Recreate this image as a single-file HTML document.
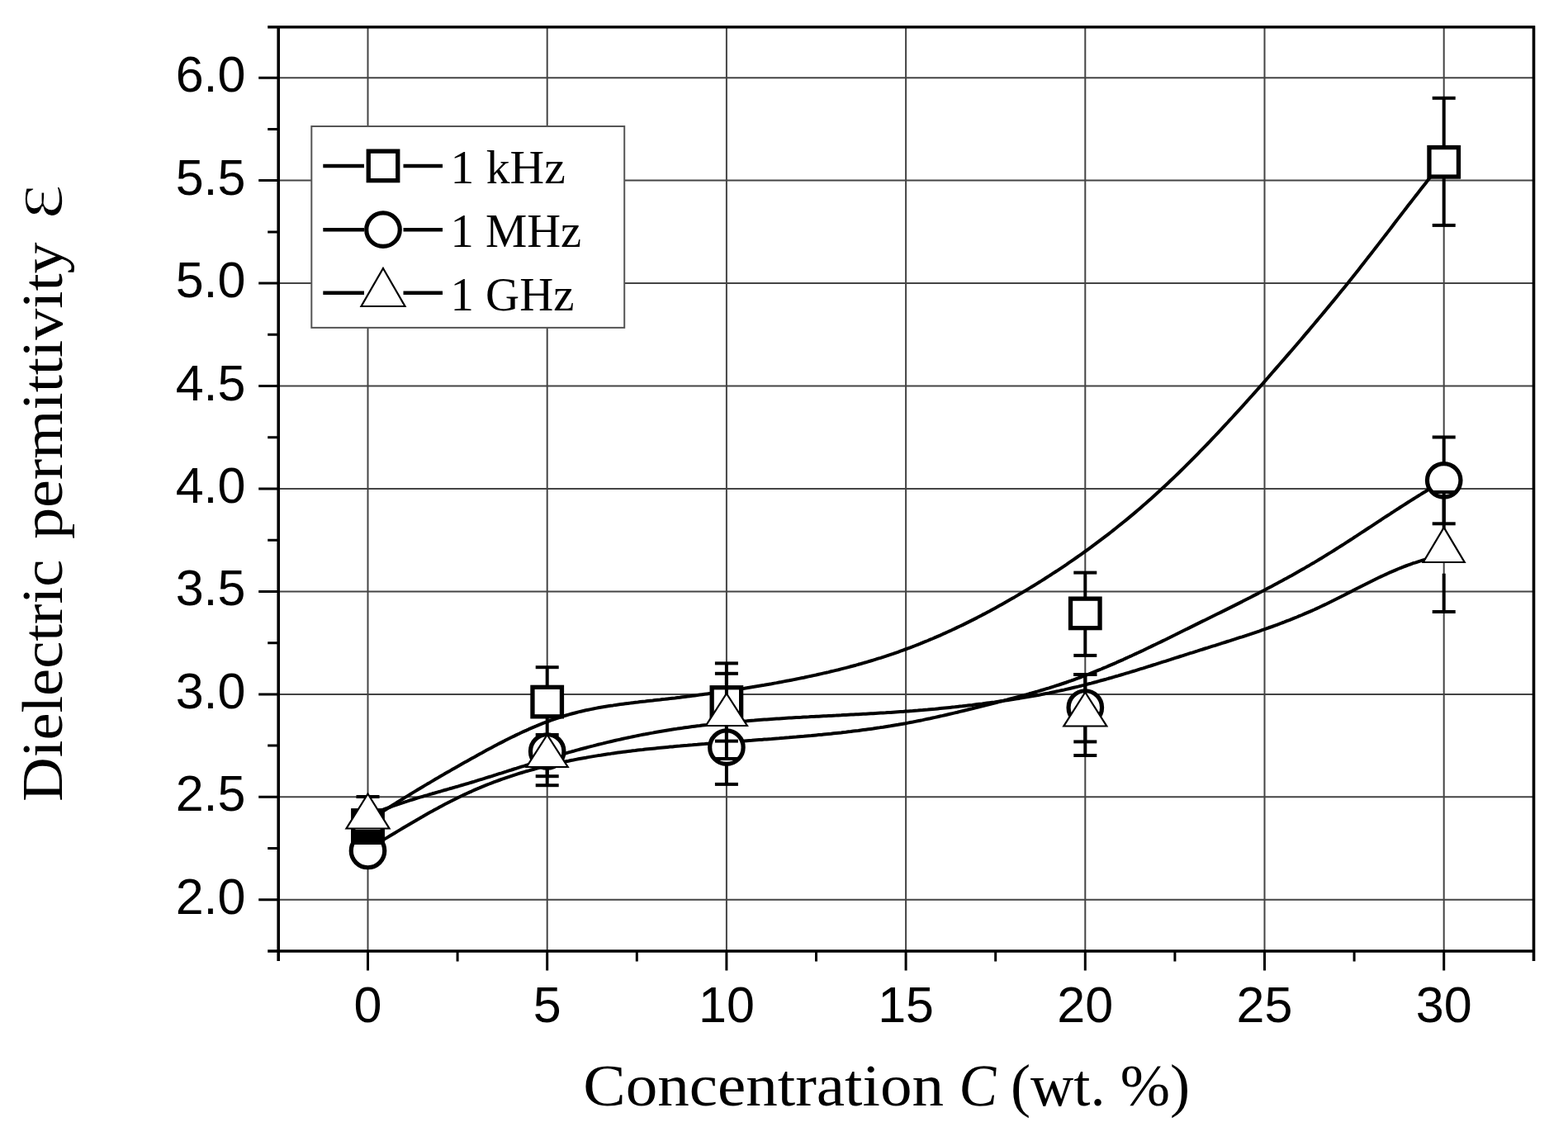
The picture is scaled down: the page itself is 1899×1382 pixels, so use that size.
<!DOCTYPE html><html><head><meta charset="utf-8"><style>html,body{margin:0;padding:0;background:#fff;}svg{display:block;}</style></head><body>
<svg width="1899" height="1382" viewBox="0 0 1899 1382">
<rect x="0" y="0" width="1899" height="1382" fill="#fff"/>
<path d="M445.5 32.7V1152.0M662.7 32.7V1152.0M879.9 32.7V1152.0M1097.1 32.7V1152.0M1314.3 32.7V1152.0M1531.5 32.7V1152.0M1748.7 32.7V1152.0M337.2 1089.8H1857.5M337.2 965.3H1857.5M337.2 840.9H1857.5M337.2 716.4H1857.5M337.2 592.0H1857.5M337.2 467.5H1857.5M337.2 343.1H1857.5M337.2 218.6H1857.5M337.2 94.2H1857.5" stroke="#444" stroke-width="2" fill="none"/>
<path d="M445.5 994.7 L448.5 992.7 L451.5 990.7 L454.5 988.8 L457.5 986.8 L460.5 984.9 L463.5 982.9 L466.5 981.0 L469.5 979.1 L472.5 977.2 L475.5 975.3 L478.5 973.4 L481.5 971.5 L484.5 969.6 L487.5 967.8 L490.5 965.9 L493.5 964.1 L496.5 962.3 L499.5 960.4 L502.5 958.6 L505.5 956.8 L508.5 955.0 L511.5 953.2 L514.5 951.4 L517.5 949.6 L520.5 947.9 L523.5 946.1 L526.5 944.3 L529.5 942.6 L532.5 940.8 L535.5 939.1 L538.5 937.3 L541.5 935.6 L544.5 933.9 L547.5 932.1 L550.5 930.4 L553.5 928.7 L556.5 927.0 L559.5 925.3 L562.5 923.6 L565.5 921.9 L568.5 920.2 L571.5 918.5 L574.5 916.9 L577.5 915.2 L580.5 913.5 L583.5 911.9 L586.5 910.2 L589.5 908.6 L592.5 907.0 L595.5 905.4 L598.5 903.8 L601.5 902.2 L604.5 900.6 L607.5 899.1 L610.5 897.6 L613.5 896.0 L616.5 894.5 L619.5 893.0 L622.5 891.6 L625.5 890.1 L628.5 888.7 L631.5 887.3 L634.5 885.9 L637.5 884.6 L640.5 883.2 L643.5 881.9 L646.5 880.6 L649.5 879.4 L652.5 878.1 L655.5 876.9 L658.5 875.7 L661.5 874.6 L664.5 873.5 L667.5 872.4 L670.5 871.3 L673.5 870.3 L676.5 869.3 L679.5 868.3 L682.5 867.4 L685.5 866.5 L688.5 865.6 L691.5 864.8 L694.5 864.0 L697.5 863.2 L700.5 862.4 L703.5 861.7 L706.5 861.0 L709.5 860.3 L712.5 859.7 L715.5 859.1 L718.5 858.5 L721.5 857.9 L724.5 857.3 L727.5 856.8 L730.5 856.3 L733.5 855.8 L736.5 855.3 L739.5 854.8 L742.5 854.4 L745.5 853.9 L748.5 853.5 L751.5 853.1 L754.5 852.7 L757.5 852.3 L760.5 851.9 L763.5 851.6 L766.5 851.2 L769.5 850.8 L772.5 850.5 L775.5 850.1 L778.5 849.8 L781.5 849.5 L784.5 849.1 L787.5 848.8 L790.5 848.5 L793.5 848.1 L796.5 847.8 L799.5 847.5 L802.5 847.1 L805.5 846.8 L808.5 846.4 L811.5 846.1 L814.5 845.7 L817.5 845.4 L820.5 845.0 L823.5 844.7 L826.5 844.3 L829.5 843.9 L832.5 843.5 L835.5 843.2 L838.5 842.8 L841.5 842.4 L844.5 842.0 L847.5 841.6 L850.5 841.2 L853.5 840.8 L856.5 840.4 L859.5 840.0 L862.5 839.6 L865.5 839.2 L868.5 838.7 L871.5 838.3 L874.5 837.9 L877.5 837.4 L880.5 837.0 L883.5 836.5 L886.5 836.1 L889.5 835.6 L892.5 835.2 L895.5 834.7 L898.5 834.2 L901.5 833.8 L904.5 833.3 L907.5 832.8 L910.5 832.3 L913.5 831.8 L916.5 831.3 L919.5 830.8 L922.5 830.3 L925.5 829.8 L928.5 829.2 L931.5 828.7 L934.5 828.2 L937.5 827.6 L940.5 827.1 L943.5 826.5 L946.5 826.0 L949.5 825.4 L952.5 824.8 L955.5 824.3 L958.5 823.7 L961.5 823.1 L964.5 822.5 L967.5 821.9 L970.5 821.3 L973.5 820.7 L976.5 820.0 L979.5 819.4 L982.5 818.8 L985.5 818.1 L988.5 817.5 L991.5 816.8 L994.5 816.1 L997.5 815.4 L1000.5 814.8 L1003.5 814.1 L1006.5 813.3 L1009.5 812.6 L1012.5 811.9 L1015.5 811.2 L1018.5 810.4 L1021.5 809.6 L1024.5 808.9 L1027.5 808.1 L1030.5 807.3 L1033.5 806.5 L1036.5 805.7 L1039.5 804.8 L1042.5 804.0 L1045.5 803.1 L1048.5 802.3 L1051.5 801.4 L1054.5 800.5 L1057.5 799.6 L1060.5 798.7 L1063.5 797.7 L1066.5 796.8 L1069.5 795.8 L1072.5 794.9 L1075.5 793.9 L1078.5 792.9 L1081.5 791.9 L1084.5 790.8 L1087.5 789.8 L1090.5 788.7 L1093.5 787.6 L1096.5 786.5 L1099.5 785.4 L1102.5 784.3 L1105.5 783.2 L1108.5 782.0 L1111.5 780.8 L1114.5 779.7 L1117.5 778.4 L1120.5 777.2 L1123.5 776.0 L1126.5 774.7 L1129.5 773.5 L1132.5 772.2 L1135.5 770.9 L1138.5 769.6 L1141.5 768.2 L1144.5 766.9 L1147.5 765.5 L1150.5 764.2 L1153.5 762.8 L1156.5 761.4 L1159.5 759.9 L1162.5 758.5 L1165.5 757.1 L1168.5 755.6 L1171.5 754.1 L1174.5 752.6 L1177.5 751.1 L1180.5 749.6 L1183.5 748.1 L1186.5 746.5 L1189.5 744.9 L1192.5 743.4 L1195.5 741.8 L1198.5 740.2 L1201.5 738.5 L1204.5 736.9 L1207.5 735.3 L1210.5 733.6 L1213.5 731.9 L1216.5 730.2 L1219.5 728.5 L1222.5 726.8 L1225.5 725.1 L1228.5 723.4 L1231.5 721.6 L1234.5 719.8 L1237.5 718.1 L1240.5 716.3 L1243.5 714.5 L1246.5 712.6 L1249.5 710.8 L1252.5 709.0 L1255.5 707.1 L1258.5 705.2 L1261.5 703.4 L1264.5 701.5 L1267.5 699.5 L1270.5 697.6 L1273.5 695.7 L1276.5 693.7 L1279.5 691.8 L1282.5 689.8 L1285.5 687.8 L1288.5 685.8 L1291.5 683.8 L1294.5 681.7 L1297.5 679.7 L1300.5 677.6 L1303.5 675.5 L1306.5 673.4 L1309.5 671.3 L1312.5 669.1 L1315.5 667.0 L1318.5 664.8 L1321.5 662.6 L1324.5 660.4 L1327.5 658.2 L1330.5 655.9 L1333.5 653.7 L1336.5 651.4 L1339.5 649.1 L1342.5 646.8 L1345.5 644.5 L1348.5 642.1 L1351.5 639.7 L1354.5 637.3 L1357.5 634.9 L1360.5 632.5 L1363.5 630.1 L1366.5 627.6 L1369.5 625.1 L1372.5 622.6 L1375.5 620.1 L1378.5 617.5 L1381.5 614.9 L1384.5 612.3 L1387.5 609.7 L1390.5 607.1 L1393.5 604.4 L1396.5 601.7 L1399.5 599.0 L1402.5 596.3 L1405.5 593.5 L1408.5 590.8 L1411.5 588.0 L1414.5 585.2 L1417.5 582.3 L1420.5 579.5 L1423.5 576.6 L1426.5 573.7 L1429.5 570.8 L1432.5 567.8 L1435.5 564.9 L1438.5 561.9 L1441.5 558.9 L1444.5 555.9 L1447.5 552.9 L1450.5 549.8 L1453.5 546.7 L1456.5 543.7 L1459.5 540.6 L1462.5 537.5 L1465.5 534.3 L1468.5 531.2 L1471.5 528.0 L1474.5 524.8 L1477.5 521.6 L1480.5 518.4 L1483.5 515.2 L1486.5 512.0 L1489.5 508.7 L1492.5 505.5 L1495.5 502.2 L1498.5 498.9 L1501.5 495.6 L1504.5 492.3 L1507.5 489.0 L1510.5 485.7 L1513.5 482.3 L1516.5 479.0 L1519.5 475.6 L1522.5 472.2 L1525.5 468.9 L1528.5 465.5 L1531.5 462.1 L1534.5 458.7 L1537.5 455.2 L1540.5 451.8 L1543.5 448.4 L1546.5 444.9 L1549.5 441.5 L1552.5 438.0 L1555.5 434.6 L1558.5 431.1 L1561.5 427.6 L1564.5 424.2 L1567.5 420.7 L1570.5 417.2 L1573.5 413.7 L1576.5 410.2 L1579.5 406.6 L1582.5 403.1 L1585.5 399.6 L1588.5 396.0 L1591.5 392.5 L1594.5 388.9 L1597.5 385.3 L1600.5 381.7 L1603.5 378.1 L1606.5 374.5 L1609.5 370.9 L1612.5 367.2 L1615.5 363.6 L1618.5 359.9 L1621.5 356.3 L1624.5 352.6 L1627.5 348.9 L1630.5 345.2 L1633.5 341.4 L1636.5 337.7 L1639.5 333.9 L1642.5 330.2 L1645.5 326.4 L1648.5 322.6 L1651.5 318.8 L1654.5 314.9 L1657.5 311.1 L1660.5 307.3 L1663.5 303.4 L1666.5 299.5 L1669.5 295.6 L1672.5 291.8 L1675.5 287.9 L1678.5 284.0 L1681.5 280.1 L1684.5 276.2 L1687.5 272.2 L1690.5 268.3 L1693.5 264.4 L1696.5 260.5 L1699.5 256.6 L1702.5 252.7 L1705.5 248.8 L1708.5 245.0 L1711.5 241.1 L1714.5 237.2 L1717.5 233.4 L1720.5 229.5 L1723.5 225.7 L1726.5 221.9 L1729.5 218.1 L1732.5 214.3 L1735.5 210.6 L1738.5 206.8 L1741.5 203.1 L1744.5 199.4 L1747.5 195.7 L1748.8 194.2" stroke="#000" stroke-width="4" fill="none" stroke-linejoin="round"/>
<path d="M445.5 1028.5 L448.5 1026.7 L451.5 1024.9 L454.5 1023.2 L457.5 1021.4 L460.5 1019.5 L463.5 1017.7 L466.5 1015.9 L469.5 1014.1 L472.5 1012.3 L475.5 1010.5 L478.5 1008.7 L481.5 1006.9 L484.5 1005.1 L487.5 1003.3 L490.5 1001.5 L493.5 999.8 L496.5 998.0 L499.5 996.2 L502.5 994.5 L505.5 992.7 L508.5 991.0 L511.5 989.3 L514.5 987.5 L517.5 985.8 L520.5 984.1 L523.5 982.5 L526.5 980.8 L529.5 979.2 L532.5 977.5 L535.5 975.9 L538.5 974.3 L541.5 972.8 L544.5 971.2 L547.5 969.7 L550.5 968.2 L553.5 966.7 L556.5 965.2 L559.5 963.8 L562.5 962.4 L565.5 961.0 L568.5 959.6 L571.5 958.3 L574.5 956.9 L577.5 955.6 L580.5 954.4 L583.5 953.1 L586.5 951.9 L589.5 950.7 L592.5 949.5 L595.5 948.3 L598.5 947.2 L601.5 946.1 L604.5 945.0 L607.5 943.9 L610.5 942.9 L613.5 941.8 L616.5 940.8 L619.5 939.8 L622.5 938.8 L625.5 937.9 L628.5 936.9 L631.5 936.0 L634.5 935.1 L637.5 934.2 L640.5 933.4 L643.5 932.5 L646.5 931.7 L649.5 930.9 L652.5 930.1 L655.5 929.3 L658.5 928.5 L661.5 927.8 L664.5 927.0 L667.5 926.3 L670.5 925.6 L673.5 924.9 L676.5 924.2 L679.5 923.6 L682.5 922.9 L685.5 922.3 L688.5 921.7 L691.5 921.0 L694.5 920.5 L697.5 919.9 L700.5 919.3 L703.5 918.7 L706.5 918.2 L709.5 917.7 L712.5 917.1 L715.5 916.6 L718.5 916.1 L721.5 915.6 L724.5 915.1 L727.5 914.7 L730.5 914.2 L733.5 913.7 L736.5 913.3 L739.5 912.9 L742.5 912.4 L745.5 912.0 L748.5 911.6 L751.5 911.2 L754.5 910.8 L757.5 910.4 L760.5 910.1 L763.5 909.7 L766.5 909.3 L769.5 909.0 L772.5 908.6 L775.5 908.3 L778.5 908.0 L781.5 907.6 L784.5 907.3 L787.5 907.0 L790.5 906.7 L793.5 906.4 L796.5 906.1 L799.5 905.8 L802.5 905.5 L805.5 905.2 L808.5 904.9 L811.5 904.6 L814.5 904.4 L817.5 904.1 L820.5 903.8 L823.5 903.6 L826.5 903.3 L829.5 903.0 L832.5 902.8 L835.5 902.5 L838.5 902.3 L841.5 902.0 L844.5 901.8 L847.5 901.5 L850.5 901.3 L853.5 901.1 L856.5 900.8 L859.5 900.6 L862.5 900.3 L865.5 900.1 L868.5 899.9 L871.5 899.7 L874.5 899.4 L877.5 899.2 L880.5 899.0 L883.5 898.8 L886.5 898.5 L889.5 898.3 L892.5 898.1 L895.5 897.9 L898.5 897.6 L901.5 897.4 L904.5 897.2 L907.5 897.0 L910.5 896.8 L913.5 896.5 L916.5 896.3 L919.5 896.1 L922.5 895.9 L925.5 895.6 L928.5 895.4 L931.5 895.2 L934.5 895.0 L937.5 894.7 L940.5 894.5 L943.5 894.3 L946.5 894.0 L949.5 893.8 L952.5 893.5 L955.5 893.3 L958.5 893.0 L961.5 892.8 L964.5 892.6 L967.5 892.3 L970.5 892.0 L973.5 891.8 L976.5 891.5 L979.5 891.2 L982.5 891.0 L985.5 890.7 L988.5 890.4 L991.5 890.1 L994.5 889.9 L997.5 889.6 L1000.5 889.3 L1003.5 889.0 L1006.5 888.7 L1009.5 888.3 L1012.5 888.0 L1015.5 887.7 L1018.5 887.4 L1021.5 887.0 L1024.5 886.7 L1027.5 886.3 L1030.5 886.0 L1033.5 885.6 L1036.5 885.2 L1039.5 884.9 L1042.5 884.5 L1045.5 884.1 L1048.5 883.7 L1051.5 883.3 L1054.5 882.9 L1057.5 882.5 L1060.5 882.0 L1063.5 881.6 L1066.5 881.1 L1069.5 880.7 L1072.5 880.2 L1075.5 879.7 L1078.5 879.3 L1081.5 878.8 L1084.5 878.3 L1087.5 877.8 L1090.5 877.2 L1093.5 876.7 L1096.5 876.2 L1099.5 875.6 L1102.5 875.0 L1105.5 874.5 L1108.5 873.9 L1111.5 873.3 L1114.5 872.7 L1117.5 872.1 L1120.5 871.4 L1123.5 870.8 L1126.5 870.2 L1129.5 869.5 L1132.5 868.9 L1135.5 868.2 L1138.5 867.5 L1141.5 866.9 L1144.5 866.2 L1147.5 865.5 L1150.5 864.8 L1153.5 864.1 L1156.5 863.4 L1159.5 862.7 L1162.5 861.9 L1165.5 861.2 L1168.5 860.5 L1171.5 859.8 L1174.5 859.0 L1177.5 858.3 L1180.5 857.5 L1183.5 856.8 L1186.5 856.0 L1189.5 855.3 L1192.5 854.5 L1195.5 853.8 L1198.5 853.0 L1201.5 852.2 L1204.5 851.5 L1207.5 850.7 L1210.5 849.9 L1213.5 849.2 L1216.5 848.4 L1219.5 847.6 L1222.5 846.8 L1225.5 846.0 L1228.5 845.2 L1231.5 844.4 L1234.5 843.6 L1237.5 842.8 L1240.5 842.0 L1243.5 841.2 L1246.5 840.3 L1249.5 839.5 L1252.5 838.6 L1255.5 837.8 L1258.5 836.9 L1261.5 836.0 L1264.5 835.1 L1267.5 834.2 L1270.5 833.3 L1273.5 832.3 L1276.5 831.4 L1279.5 830.4 L1282.5 829.5 L1285.5 828.5 L1288.5 827.5 L1291.5 826.5 L1294.5 825.4 L1297.5 824.4 L1300.5 823.3 L1303.5 822.2 L1306.5 821.1 L1309.5 820.0 L1312.5 818.8 L1315.5 817.7 L1318.5 816.5 L1321.5 815.3 L1324.5 814.1 L1327.5 812.9 L1330.5 811.7 L1333.5 810.5 L1336.5 809.2 L1339.5 808.0 L1342.5 806.7 L1345.5 805.4 L1348.5 804.1 L1351.5 802.8 L1354.5 801.4 L1357.5 800.1 L1360.5 798.8 L1363.5 797.4 L1366.5 796.0 L1369.5 794.7 L1372.5 793.3 L1375.5 791.9 L1378.5 790.5 L1381.5 789.1 L1384.5 787.7 L1387.5 786.2 L1390.5 784.8 L1393.5 783.4 L1396.5 781.9 L1399.5 780.5 L1402.5 779.0 L1405.5 777.6 L1408.5 776.1 L1411.5 774.7 L1414.5 773.2 L1417.5 771.7 L1420.5 770.2 L1423.5 768.8 L1426.5 767.3 L1429.5 765.8 L1432.5 764.3 L1435.5 762.8 L1438.5 761.4 L1441.5 759.9 L1444.5 758.4 L1447.5 756.9 L1450.5 755.4 L1453.5 753.9 L1456.5 752.4 L1459.5 751.0 L1462.5 749.5 L1465.5 748.0 L1468.5 746.5 L1471.5 745.0 L1474.5 743.5 L1477.5 742.1 L1480.5 740.6 L1483.5 739.1 L1486.5 737.6 L1489.5 736.1 L1492.5 734.6 L1495.5 733.1 L1498.5 731.6 L1501.5 730.1 L1504.5 728.6 L1507.5 727.0 L1510.5 725.5 L1513.5 724.0 L1516.5 722.4 L1519.5 720.9 L1522.5 719.4 L1525.5 717.8 L1528.5 716.2 L1531.5 714.7 L1534.5 713.1 L1537.5 711.5 L1540.5 709.9 L1543.5 708.3 L1546.5 706.7 L1549.5 705.1 L1552.5 703.5 L1555.5 701.8 L1558.5 700.2 L1561.5 698.5 L1564.5 696.9 L1567.5 695.2 L1570.5 693.5 L1573.5 691.8 L1576.5 690.1 L1579.5 688.4 L1582.5 686.6 L1585.5 684.9 L1588.5 683.1 L1591.5 681.4 L1594.5 679.6 L1597.5 677.8 L1600.5 676.0 L1603.5 674.1 L1606.5 672.3 L1609.5 670.4 L1612.5 668.6 L1615.5 666.7 L1618.5 664.8 L1621.5 662.9 L1624.5 661.0 L1627.5 659.1 L1630.5 657.1 L1633.5 655.2 L1636.5 653.3 L1639.5 651.3 L1642.5 649.4 L1645.5 647.4 L1648.5 645.4 L1651.5 643.5 L1654.5 641.5 L1657.5 639.5 L1660.5 637.6 L1663.5 635.6 L1666.5 633.6 L1669.5 631.6 L1672.5 629.7 L1675.5 627.7 L1678.5 625.7 L1681.5 623.8 L1684.5 621.8 L1687.5 619.9 L1690.5 617.9 L1693.5 616.0 L1696.5 614.0 L1699.5 612.1 L1702.5 610.2 L1705.5 608.3 L1708.5 606.4 L1711.5 604.5 L1714.5 602.6 L1717.5 600.7 L1720.5 598.9 L1723.5 597.0 L1726.5 595.2 L1729.5 593.4 L1732.5 591.6 L1735.5 589.8 L1738.5 588.0 L1741.5 586.2 L1744.5 584.5 L1747.5 582.8 L1748.8 582.0" stroke="#000" stroke-width="4" fill="none" stroke-linejoin="round"/>
<path d="M445.5 988.3 L448.5 987.0 L451.5 985.7 L454.5 984.5 L457.5 983.3 L460.5 982.1 L463.5 980.9 L466.5 979.7 L469.5 978.6 L472.5 977.5 L475.5 976.4 L478.5 975.4 L481.5 974.3 L484.5 973.3 L487.5 972.3 L490.5 971.3 L493.5 970.4 L496.5 969.4 L499.5 968.5 L502.5 967.5 L505.5 966.6 L508.5 965.7 L511.5 964.8 L514.5 963.9 L517.5 963.1 L520.5 962.2 L523.5 961.3 L526.5 960.5 L529.5 959.6 L532.5 958.8 L535.5 957.9 L538.5 957.0 L541.5 956.2 L544.5 955.3 L547.5 954.5 L550.5 953.6 L553.5 952.8 L556.5 951.9 L559.5 951.0 L562.5 950.1 L565.5 949.3 L568.5 948.4 L571.5 947.5 L574.5 946.6 L577.5 945.6 L580.5 944.7 L583.5 943.8 L586.5 942.9 L589.5 941.9 L592.5 941.0 L595.5 940.1 L598.5 939.1 L601.5 938.2 L604.5 937.2 L607.5 936.3 L610.5 935.3 L613.5 934.4 L616.5 933.4 L619.5 932.5 L622.5 931.5 L625.5 930.6 L628.5 929.6 L631.5 928.7 L634.5 927.8 L637.5 926.8 L640.5 925.9 L643.5 924.9 L646.5 924.0 L649.5 923.1 L652.5 922.1 L655.5 921.2 L658.5 920.3 L661.5 919.4 L664.5 918.5 L667.5 917.6 L670.5 916.7 L673.5 915.8 L676.5 914.9 L679.5 914.0 L682.5 913.1 L685.5 912.3 L688.5 911.4 L691.5 910.6 L694.5 909.8 L697.5 908.9 L700.5 908.1 L703.5 907.3 L706.5 906.5 L709.5 905.7 L712.5 904.9 L715.5 904.1 L718.5 903.4 L721.5 902.6 L724.5 901.8 L727.5 901.1 L730.5 900.4 L733.5 899.6 L736.5 898.9 L739.5 898.2 L742.5 897.5 L745.5 896.8 L748.5 896.1 L751.5 895.5 L754.5 894.8 L757.5 894.1 L760.5 893.5 L763.5 892.9 L766.5 892.2 L769.5 891.6 L772.5 891.0 L775.5 890.4 L778.5 889.8 L781.5 889.3 L784.5 888.7 L787.5 888.1 L790.5 887.6 L793.5 887.0 L796.5 886.5 L799.5 886.0 L802.5 885.5 L805.5 885.0 L808.5 884.5 L811.5 884.0 L814.5 883.5 L817.5 883.1 L820.5 882.6 L823.5 882.2 L826.5 881.8 L829.5 881.3 L832.5 880.9 L835.5 880.5 L838.5 880.1 L841.5 879.7 L844.5 879.3 L847.5 879.0 L850.5 878.6 L853.5 878.2 L856.5 877.9 L859.5 877.5 L862.5 877.2 L865.5 876.9 L868.5 876.5 L871.5 876.2 L874.5 875.9 L877.5 875.6 L880.5 875.3 L883.5 875.0 L886.5 874.8 L889.5 874.5 L892.5 874.2 L895.5 873.9 L898.5 873.7 L901.5 873.4 L904.5 873.2 L907.5 872.9 L910.5 872.7 L913.5 872.5 L916.5 872.2 L919.5 872.0 L922.5 871.8 L925.5 871.6 L928.5 871.4 L931.5 871.2 L934.5 871.0 L937.5 870.8 L940.5 870.6 L943.5 870.4 L946.5 870.2 L949.5 870.0 L952.5 869.8 L955.5 869.6 L958.5 869.5 L961.5 869.3 L964.5 869.1 L967.5 868.9 L970.5 868.8 L973.5 868.6 L976.5 868.4 L979.5 868.3 L982.5 868.1 L985.5 868.0 L988.5 867.8 L991.5 867.7 L994.5 867.5 L997.5 867.3 L1000.5 867.2 L1003.5 867.0 L1006.5 866.9 L1009.5 866.7 L1012.5 866.6 L1015.5 866.4 L1018.5 866.3 L1021.5 866.1 L1024.5 866.0 L1027.5 865.8 L1030.5 865.6 L1033.5 865.5 L1036.5 865.3 L1039.5 865.2 L1042.5 865.0 L1045.5 864.8 L1048.5 864.7 L1051.5 864.5 L1054.5 864.3 L1057.5 864.2 L1060.5 864.0 L1063.5 863.8 L1066.5 863.6 L1069.5 863.4 L1072.5 863.3 L1075.5 863.1 L1078.5 862.9 L1081.5 862.7 L1084.5 862.5 L1087.5 862.3 L1090.5 862.1 L1093.5 861.9 L1096.5 861.6 L1099.5 861.4 L1102.5 861.2 L1105.5 861.0 L1108.5 860.7 L1111.5 860.5 L1114.5 860.2 L1117.5 860.0 L1120.5 859.7 L1123.5 859.5 L1126.5 859.2 L1129.5 858.9 L1132.5 858.7 L1135.5 858.4 L1138.5 858.1 L1141.5 857.8 L1144.5 857.5 L1147.5 857.2 L1150.5 856.9 L1153.5 856.6 L1156.5 856.3 L1159.5 855.9 L1162.5 855.6 L1165.5 855.3 L1168.5 854.9 L1171.5 854.6 L1174.5 854.2 L1177.5 853.9 L1180.5 853.5 L1183.5 853.1 L1186.5 852.7 L1189.5 852.4 L1192.5 852.0 L1195.5 851.6 L1198.5 851.2 L1201.5 850.8 L1204.5 850.4 L1207.5 849.9 L1210.5 849.5 L1213.5 849.1 L1216.5 848.6 L1219.5 848.2 L1222.5 847.7 L1225.5 847.3 L1228.5 846.8 L1231.5 846.3 L1234.5 845.9 L1237.5 845.4 L1240.5 844.9 L1243.5 844.4 L1246.5 843.8 L1249.5 843.3 L1252.5 842.8 L1255.5 842.2 L1258.5 841.7 L1261.5 841.1 L1264.5 840.5 L1267.5 839.9 L1270.5 839.4 L1273.5 838.7 L1276.5 838.1 L1279.5 837.5 L1282.5 836.9 L1285.5 836.2 L1288.5 835.6 L1291.5 834.9 L1294.5 834.2 L1297.5 833.5 L1300.5 832.8 L1303.5 832.1 L1306.5 831.4 L1309.5 830.6 L1312.5 829.9 L1315.5 829.1 L1318.5 828.3 L1321.5 827.6 L1324.5 826.8 L1327.5 826.0 L1330.5 825.1 L1333.5 824.3 L1336.5 823.5 L1339.5 822.7 L1342.5 821.8 L1345.5 821.0 L1348.5 820.1 L1351.5 819.2 L1354.5 818.4 L1357.5 817.5 L1360.5 816.6 L1363.5 815.7 L1366.5 814.8 L1369.5 813.9 L1372.5 813.0 L1375.5 812.1 L1378.5 811.1 L1381.5 810.2 L1384.5 809.3 L1387.5 808.3 L1390.5 807.4 L1393.5 806.5 L1396.5 805.5 L1399.5 804.6 L1402.5 803.6 L1405.5 802.7 L1408.5 801.7 L1411.5 800.8 L1414.5 799.8 L1417.5 798.9 L1420.5 797.9 L1423.5 796.9 L1426.5 796.0 L1429.5 795.0 L1432.5 794.1 L1435.5 793.1 L1438.5 792.2 L1441.5 791.2 L1444.5 790.3 L1447.5 789.3 L1450.5 788.4 L1453.5 787.4 L1456.5 786.5 L1459.5 785.5 L1462.5 784.6 L1465.5 783.6 L1468.5 782.7 L1471.5 781.8 L1474.5 780.8 L1477.5 779.9 L1480.5 778.9 L1483.5 778.0 L1486.5 777.0 L1489.5 776.1 L1492.5 775.1 L1495.5 774.2 L1498.5 773.2 L1501.5 772.2 L1504.5 771.3 L1507.5 770.3 L1510.5 769.3 L1513.5 768.3 L1516.5 767.3 L1519.5 766.3 L1522.5 765.3 L1525.5 764.3 L1528.5 763.2 L1531.5 762.2 L1534.5 761.1 L1537.5 760.0 L1540.5 759.0 L1543.5 757.9 L1546.5 756.8 L1549.5 755.7 L1552.5 754.5 L1555.5 753.4 L1558.5 752.2 L1561.5 751.1 L1564.5 749.9 L1567.5 748.7 L1570.5 747.5 L1573.5 746.2 L1576.5 745.0 L1579.5 743.7 L1582.5 742.4 L1585.5 741.1 L1588.5 739.8 L1591.5 738.5 L1594.5 737.1 L1597.5 735.7 L1600.5 734.3 L1603.5 732.9 L1606.5 731.5 L1609.5 730.0 L1612.5 728.5 L1615.5 727.0 L1618.5 725.5 L1621.5 724.0 L1624.5 722.5 L1627.5 721.0 L1630.5 719.4 L1633.5 717.9 L1636.5 716.4 L1639.5 714.8 L1642.5 713.3 L1645.5 711.8 L1648.5 710.2 L1651.5 708.7 L1654.5 707.2 L1657.5 705.7 L1660.5 704.2 L1663.5 702.7 L1666.5 701.2 L1669.5 699.8 L1672.5 698.4 L1675.5 697.0 L1678.5 695.6 L1681.5 694.2 L1684.5 692.9 L1687.5 691.6 L1690.5 690.3 L1693.5 689.0 L1696.5 687.8 L1699.5 686.6 L1702.5 685.5 L1705.5 684.4 L1708.5 683.3 L1711.5 682.2 L1714.5 681.3 L1717.5 680.3 L1720.5 679.4 L1723.5 678.5 L1726.5 677.7 L1729.5 677.0 L1732.5 676.3 L1735.5 675.6 L1738.5 675.0 L1741.5 674.5 L1744.5 674.0 L1747.5 673.6 L1748.8 673.5" stroke="#000" stroke-width="4" fill="none" stroke-linejoin="round"/>
<circle cx="445.5" cy="1030.5" r="20.25" fill="#fff" stroke="#000" stroke-width="5.2"/>
<path d="M662.7 910.0V940.2" stroke="#000" stroke-width="4"/><path d="M648.7 940.2H676.7" stroke="#000" stroke-width="4"/>
<circle cx="662.7" cy="910.0" r="20.25" fill="#fff" stroke="#000" stroke-width="5.2"/>
<path d="M879.9 905.2V860.5" stroke="#000" stroke-width="4"/><path d="M865.9 860.5H893.9" stroke="#000" stroke-width="4"/>
<path d="M879.9 905.2V949.9" stroke="#000" stroke-width="4"/><path d="M865.9 949.9H893.9" stroke="#000" stroke-width="4"/>
<circle cx="879.9" cy="905.2" r="20.25" fill="#fff" stroke="#000" stroke-width="5.2"/>
<path d="M1314.3 857.0V817.0" stroke="#000" stroke-width="4"/><path d="M1300.3 817.0H1328.3" stroke="#000" stroke-width="4"/>
<path d="M1314.3 857.0V898.4" stroke="#000" stroke-width="4"/><path d="M1300.3 898.4H1328.3" stroke="#000" stroke-width="4"/>
<circle cx="1314.3" cy="857.0" r="20.25" fill="#fff" stroke="#000" stroke-width="5.2"/>
<path d="M1748.7 581.8V529.5" stroke="#000" stroke-width="4"/><path d="M1734.7 529.5H1762.7" stroke="#000" stroke-width="4"/>
<path d="M1748.7 581.8V634.3" stroke="#000" stroke-width="4"/><path d="M1734.7 634.3H1762.7" stroke="#000" stroke-width="4"/>
<circle cx="1748.7" cy="581.8" r="20.25" fill="#fff" stroke="#000" stroke-width="5.2"/>
<path d="M445.5 999.5V965.0" stroke="#000" stroke-width="4"/><path d="M431.5 965.0H459.5" stroke="#000" stroke-width="4"/>
<rect x="427.75" y="981.75" width="35.5" height="35.5" fill="#fff" stroke="#000" stroke-width="5.3"/>
<path d="M662.7 850.1V808.2" stroke="#000" stroke-width="4"/><path d="M648.7 808.2H676.7" stroke="#000" stroke-width="4"/>
<path d="M662.7 850.1V890.0" stroke="#000" stroke-width="4"/><path d="M648.7 890.0H676.7" stroke="#000" stroke-width="4"/>
<rect x="644.95" y="832.35" width="35.5" height="35.5" fill="#fff" stroke="#000" stroke-width="5.3"/>
<path d="M879.9 850.5V803.4" stroke="#000" stroke-width="4"/><path d="M865.9 803.4H893.9" stroke="#000" stroke-width="4"/>
<path d="M879.9 850.5V897.6" stroke="#000" stroke-width="4"/><path d="M865.9 897.6H893.9" stroke="#000" stroke-width="4"/>
<rect x="862.15" y="832.75" width="35.5" height="35.5" fill="#fff" stroke="#000" stroke-width="5.3"/>
<path d="M1314.3 742.9V693.6" stroke="#000" stroke-width="4"/><path d="M1300.3 693.6H1328.3" stroke="#000" stroke-width="4"/>
<path d="M1314.3 742.9V793.9" stroke="#000" stroke-width="4"/><path d="M1300.3 793.9H1328.3" stroke="#000" stroke-width="4"/>
<rect x="1296.55" y="725.15" width="35.5" height="35.5" fill="#fff" stroke="#000" stroke-width="5.3"/>
<path d="M1748.7 196.3V118.8" stroke="#000" stroke-width="4"/><path d="M1734.7 118.8H1762.7" stroke="#000" stroke-width="4"/>
<path d="M1748.7 196.3V272.9" stroke="#000" stroke-width="4"/><path d="M1734.7 272.9H1762.7" stroke="#000" stroke-width="4"/>
<rect x="1730.95" y="178.55" width="35.5" height="35.5" fill="#fff" stroke="#000" stroke-width="5.3"/>
<rect x="425.3" y="1005" width="40.5" height="18" fill="#000"/>
<path d="M445.5 961.5L471.5 1003.5L419.5 1003.5Z" fill="#fff" stroke="#000" stroke-width="2.2" stroke-linejoin="miter"/>
<path d="M662.7 909.2V951.2" stroke="#000" stroke-width="4"/><path d="M648.7 951.2H676.7" stroke="#000" stroke-width="4"/>
<path d="M662.7 890.0L687.7 929.0L637.7 929.0Z" fill="#fff" stroke="#000" stroke-width="2.2" stroke-linejoin="miter"/>
<path d="M879.9 859.2V815.8" stroke="#000" stroke-width="4"/><path d="M865.9 815.8H893.9" stroke="#000" stroke-width="4"/>
<path d="M879.9 859.2V919.0" stroke="#000" stroke-width="4"/><path d="M865.9 919.0H893.9" stroke="#000" stroke-width="4"/>
<path d="M879.9 840.0L904.9 879.0L854.9 879.0Z" fill="#fff" stroke="#000" stroke-width="2.2" stroke-linejoin="miter"/>
<path d="M1314.3 858.8V817.0" stroke="#000" stroke-width="4"/><path d="M1300.3 817.0H1328.3" stroke="#000" stroke-width="4"/>
<path d="M1314.3 858.8V915.0" stroke="#000" stroke-width="4"/><path d="M1300.3 915.0H1328.3" stroke="#000" stroke-width="4"/>
<path d="M1314.3 838.5L1340.3 879.5L1288.3 879.5Z" fill="#fff" stroke="#000" stroke-width="2.2" stroke-linejoin="miter"/>
<path d="M1748.7 659.7V596.0" stroke="#000" stroke-width="4"/><path d="M1734.7 596.0H1762.7" stroke="#000" stroke-width="4"/>
<path d="M1748.7 694.7V741.0" stroke="#000" stroke-width="4"/><path d="M1734.7 741.0H1762.7" stroke="#000" stroke-width="4"/>
<path d="M1748.7 638.9L1773.7 681.0L1723.7 681.0Z" fill="#fff" stroke="#000" stroke-width="2.2" stroke-linejoin="miter"/>
<path d="M324.2 32.7H1859.0M324.2 1152.0H1859.0M337.2 31.2V1164.0M1857.5 31.2V1164.0" stroke="#000" stroke-width="3.6" fill="none"/>
<path d="M313.2 1089.8H337.2M313.2 965.3H337.2M313.2 840.9H337.2M313.2 716.4H337.2M313.2 592.0H337.2M313.2 467.5H337.2M313.2 343.1H337.2M313.2 218.6H337.2M313.2 94.2H337.2M324.2 1027.6H337.2M324.2 903.1H337.2M324.2 778.7H337.2M324.2 654.2H337.2M324.2 529.8H337.2M324.2 405.3H337.2M324.2 280.9H337.2M324.2 156.4H337.2M445.5 1152.0V1175.5M662.7 1152.0V1175.5M879.9 1152.0V1175.5M1097.1 1152.0V1175.5M1314.3 1152.0V1175.5M1531.5 1152.0V1175.5M1748.7 1152.0V1175.5M554.1 1152.0V1164.5M771.3 1152.0V1164.5M988.5 1152.0V1164.5M1205.7 1152.0V1164.5M1422.9 1152.0V1164.5M1640.1 1152.0V1164.5" stroke="#000" stroke-width="3" fill="none"/>
<g font-family="&quot;Liberation Sans&quot;, Arial, sans-serif" font-size="61" fill="#000">
<text x="297.5" y="1106.8" text-anchor="end">2.0</text>
<text x="297.5" y="982.3" text-anchor="end">2.5</text>
<text x="297.5" y="857.9" text-anchor="end">3.0</text>
<text x="297.5" y="733.4" text-anchor="end">3.5</text>
<text x="297.5" y="609.0" text-anchor="end">4.0</text>
<text x="297.5" y="484.5" text-anchor="end">4.5</text>
<text x="297.5" y="360.1" text-anchor="end">5.0</text>
<text x="297.5" y="235.6" text-anchor="end">5.5</text>
<text x="297.5" y="111.2" text-anchor="end">6.0</text>
<text x="445.5" y="1238" text-anchor="middle">0</text>
<text x="662.7" y="1238" text-anchor="middle">5</text>
<text x="879.9" y="1238" text-anchor="middle">10</text>
<text x="1097.1" y="1238" text-anchor="middle">15</text>
<text x="1314.3" y="1238" text-anchor="middle">20</text>
<text x="1531.5" y="1238" text-anchor="middle">25</text>
<text x="1748.7" y="1238" text-anchor="middle">30</text>
</g>
<g font-family="&quot;Liberation Serif&quot;, serif" font-size="72" fill="#000">
<text x="706.2" y="1339" textLength="436.9" lengthAdjust="spacingAndGlyphs">Concentration</text>
<text transform="translate(1160.3,1339) skewX(-6)" x="0" y="0" textLength="46.3" lengthAdjust="spacingAndGlyphs">C</text>
<text x="1224" y="1339" textLength="217" lengthAdjust="spacingAndGlyphs">(wt. %)</text>
</g>
<g font-family="&quot;Liberation Serif&quot;, serif" font-size="70" fill="#000" transform="translate(75.3,0) rotate(-90)">
<text x="-970.9" y="0" textLength="293.1" lengthAdjust="spacingAndGlyphs">Dielectric</text>
<text x="-653.1" y="0" textLength="359.8" lengthAdjust="spacingAndGlyphs">permittivity</text>
<text x="-265.8" y="0" font-size="96" textLength="42.5" lengthAdjust="spacingAndGlyphs" stroke="#fff" stroke-width="1.6">ε</text>
</g>
<rect x="377.3" y="153" width="378.9" height="243.9" fill="#fff" stroke="#555" stroke-width="2"/>
<path d="M391.3 200.9H441M488.5 200.9H536" stroke="#000" stroke-width="4.5"/>
<rect x="446.25" y="183.15" width="35.5" height="35.5" fill="#fff" stroke="#000" stroke-width="5.3"/>
<path d="M391.3 278.2H441M488.5 278.2H536" stroke="#000" stroke-width="4.5"/>
<circle cx="464.0" cy="278.2" r="20.25" fill="#fff" stroke="#000" stroke-width="5.2"/>
<path d="M391.3 354.8H441M488.5 354.8H536" stroke="#000" stroke-width="4.5"/>
<path d="M464.0 325.0L490.5 371.0L437.5 371.0Z" fill="#fff" stroke="#000" stroke-width="2.2" stroke-linejoin="miter"/>
<g font-family="&quot;Liberation Serif&quot;, serif" font-size="56" fill="#000">
<text x="545.5" y="222" textLength="139.2" lengthAdjust="spacingAndGlyphs">1 kHz</text>
<text x="545.6" y="298.7" textLength="158.6" lengthAdjust="spacingAndGlyphs">1 MHz</text>
<text x="545.5" y="376" textLength="149.9" lengthAdjust="spacingAndGlyphs">1 GHz</text>
</g>
</svg></body></html>
